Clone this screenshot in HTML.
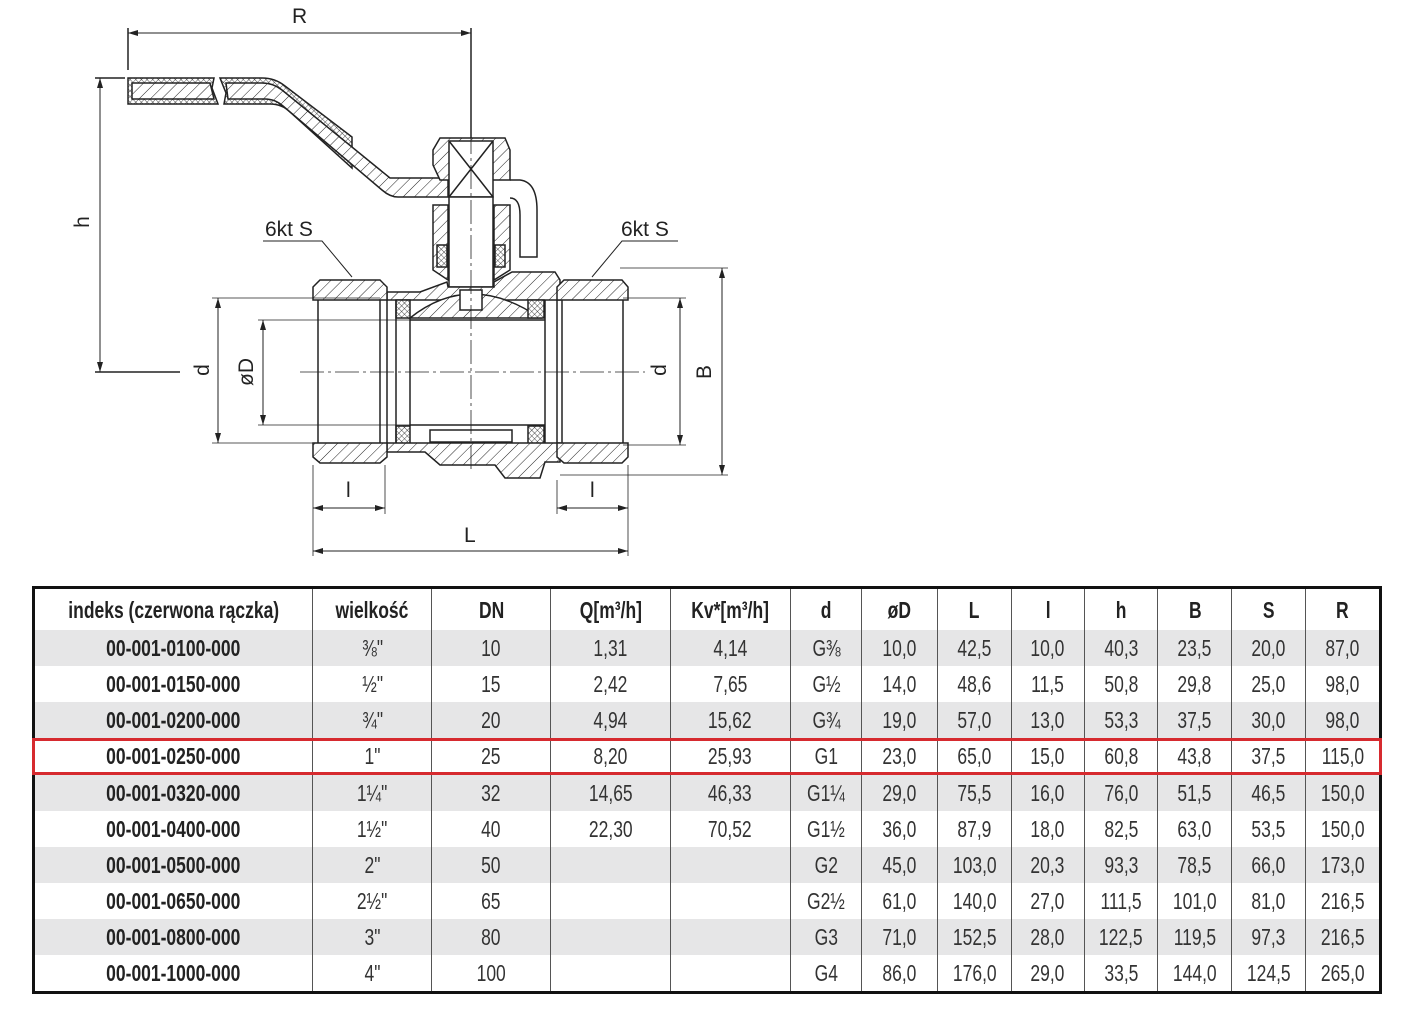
<!DOCTYPE html>
<html><head><meta charset="utf-8"><style>
html,body{margin:0;padding:0;background:#fff;}
body{width:1420px;height:1020px;position:relative;overflow:hidden;font-family:"Liberation Sans",sans-serif;}
svg{position:absolute;left:0;top:0;}
table{position:absolute;left:32px;top:586px;border-collapse:collapse;border:3px solid #111;width:1350px;}
td{height:36px;padding:0;text-align:center;font-size:23px;color:#333;border-left:1.5px solid #555;line-height:36px;white-space:nowrap;}
td span{display:inline-block;transform:scaleX(0.76);}
td:first-child{border-left:none;font-weight:bold;color:#222;}
tr.h td{height:41px;font-weight:bold;color:#222;}
tr.g td{background:#e6e6e7;}
tr.r td{border-top:3px solid #d62a2f;border-bottom:3px solid #d62a2f;height:31px;line-height:31px;}
tr.r td:first-child{border-left:3px solid #d62a2f;}
tr.r td:last-child{border-right:3px solid #d62a2f;}
</style></head><body>
<svg width="1420" height="580" viewBox="0 0 1420 580">
<defs>
<pattern id="hat" width="8" height="8" patternUnits="userSpaceOnUse" patternTransform="rotate(45)"><rect width="8" height="8" fill="#fff"/><line x1="0" y1="0" x2="0" y2="8" stroke="#222" stroke-width="1"/></pattern>
<pattern id="xh" width="4" height="4" patternUnits="userSpaceOnUse" patternTransform="rotate(45)"><rect width="4" height="4" fill="#fff"/><line x1="0" y1="0" x2="0" y2="4" stroke="#222" stroke-width="0.8"/><line x1="0" y1="0" x2="4" y2="0" stroke="#222" stroke-width="0.8"/></pattern>
<marker id="ar" markerWidth="10" markerHeight="6" refX="10" refY="3" orient="auto-start-reverse"><path d="M0,0 L10,3 L0,6 z" fill="#222"/></marker>
</defs>
<g stroke="#222" stroke-width="1.5" fill="none">
<line x1="128" y1="28" x2="128" y2="70"/><line x1="471" y1="28" x2="471" y2="148"/>
<line x1="128" y1="33" x2="471" y2="33" marker-start="url(#ar)" marker-end="url(#ar)" stroke-width="1"/>
<line x1="95" y1="78" x2="125" y2="78"/><line x1="95" y1="372" x2="180" y2="372"/>
<line x1="100" y1="78" x2="100" y2="372" marker-start="url(#ar)" marker-end="url(#ar)" stroke-width="1"/>
<path d="M128,78 L214,78 L212,88 L218,104 L128,104 Z" fill="url(#xh)"/>
<path d="M132,83 L210,83 L214,99 L132,99 Z" fill="url(#hat)"/>
<path d="M220,78 L262,78 Q275,78 285,86 L352,137 L352,143 L352,168 L290,112 Q282,104 270,104 L224,104 L226,93 Z" fill="url(#xh)"/>
<path d="M226,83 L262,83 Q273,83 282,90 L390,178 L448,178 L448,197 L398,197 Q390,197 382,190 L283,106 Q275,99 265,99 L228,99 Z" fill="url(#hat)"/>
<path d="M440,138 L505,138 L510,150 L510,180 L440,180 L433,165 L433,150 Z" fill="url(#hat)"/>
<rect x="449" y="141" width="44" height="56" fill="#fff"/>
<path d="M449,141 L493,197 M493,141 L449,197"/>
<path d="M510,180 L520,180 Q537,182 537,210 L537,257 L520,257 L520,215 Q520,198 510,198"/>
<rect x="449" y="197" width="44" height="90" fill="#fff"/>
<path d="M433,205 L448,205 L448,280 L433,270 Z" fill="url(#hat)"/>
<path d="M494,205 L510,205 L510,270 L494,280 Z" fill="url(#hat)"/>
<rect x="437" y="245" width="10" height="22" fill="url(#xh)"/><rect x="495" y="245" width="10" height="22" fill="url(#xh)"/>
<path d="M387,292 L420,292 L447,282 L448,287 L494,287 L494,282 L512,272 L555,272 L560,280 L560,300 L387,300 Z" fill="url(#hat)"/>
<path d="M410,318 Q470,270 540,318 Z" fill="url(#hat)"/>
<rect x="460" y="290" width="22" height="20" fill="#fff"/>
<rect x="396" y="300" width="14" height="18" fill="url(#xh)"/><rect x="528" y="300" width="16" height="18" fill="url(#xh)"/>
<rect x="396" y="426" width="14" height="18" fill="url(#xh)"/><rect x="528" y="426" width="16" height="18" fill="url(#xh)"/>
<path d="M387,443 L560,443 L560,462 L545,462 L540,478 L505,478 L495,465 L440,465 L425,452 L387,452 Z" fill="url(#hat)"/>
<rect x="430" y="430" width="82" height="12" fill="#fff"/>
<path d="M313,287 L320,280 L380,280 L387,287 L387,300 L313,300 Z" fill="url(#hat)"/>
<path d="M313,443 L387,443 L387,457 L380,463 L320,463 L313,457 Z" fill="url(#hat)"/>
<path d="M557,287 L564,280 L622,280 L628,287 L628,300 L557,300 Z" fill="url(#hat)"/>
<path d="M557,443 L628,443 L628,457 L622,463 L564,463 L557,457 Z" fill="url(#hat)"/>
<line x1="318" y1="300" x2="318" y2="443"/><line x1="380" y1="300" x2="380" y2="443"/>
<line x1="387" y1="300" x2="387" y2="443"/><line x1="396" y1="300" x2="396" y2="443"/>
<line x1="410" y1="318" x2="410" y2="426"/><line x1="545" y1="300" x2="545" y2="443"/><line x1="557" y1="300" x2="557" y2="443"/>
<line x1="562" y1="300" x2="562" y2="443"/><line x1="623" y1="300" x2="623" y2="443"/>
<line x1="410" y1="320" x2="545" y2="320"/><line x1="410" y1="425" x2="545" y2="425"/>
<line x1="300" y1="372" x2="645" y2="372" stroke-dasharray="24,4,3,4" stroke-width="0.8"/>
<line x1="471" y1="130" x2="471" y2="470" stroke-dasharray="24,4,3,4" stroke-width="0.8"/>
<line x1="212" y1="298" x2="380" y2="298" stroke-width="0.8"/><line x1="212" y1="443" x2="380" y2="443" stroke-width="0.8"/>
<line x1="218" y1="298" x2="218" y2="443" marker-start="url(#ar)" marker-end="url(#ar)" stroke-width="1"/>
<line x1="258" y1="320" x2="420" y2="320" stroke-width="0.8"/><line x1="258" y1="425" x2="420" y2="425" stroke-width="0.8"/>
<line x1="263" y1="320" x2="263" y2="425" marker-start="url(#ar)" marker-end="url(#ar)" stroke-width="1"/>
<line x1="623" y1="298" x2="686" y2="298" stroke-width="0.8"/><line x1="623" y1="445" x2="686" y2="445" stroke-width="0.8"/>
<line x1="680" y1="298" x2="680" y2="445" marker-start="url(#ar)" marker-end="url(#ar)" stroke-width="1"/>
<line x1="620" y1="268" x2="728" y2="268" stroke-width="0.8"/><line x1="560" y1="475" x2="728" y2="475" stroke-width="0.8"/>
<line x1="722" y1="268" x2="722" y2="475" marker-start="url(#ar)" marker-end="url(#ar)" stroke-width="1"/>
<line x1="313" y1="465" x2="313" y2="556" stroke-width="0.8"/><line x1="385" y1="465" x2="385" y2="514" stroke-width="0.8"/>
<line x1="557" y1="480" x2="557" y2="514" stroke-width="0.8"/><line x1="628" y1="465" x2="628" y2="556" stroke-width="0.8"/>
<line x1="313" y1="508" x2="385" y2="508" marker-start="url(#ar)" marker-end="url(#ar)" stroke-width="1"/>
<line x1="557" y1="508" x2="628" y2="508" marker-start="url(#ar)" marker-end="url(#ar)" stroke-width="1"/>
<line x1="313" y1="551" x2="628" y2="551" marker-start="url(#ar)" marker-end="url(#ar)" stroke-width="1"/>
<path d="M263,241 L322,241 L352,277" stroke-width="1"/>
<path d="M678,241 L622,241 L592,277" stroke-width="1"/>
</g>
<g font-family="Liberation Sans, sans-serif" font-size="21" fill="#222">
<text x="292" y="23">R</text>
<text x="464" y="542">L</text>
<text x="346" y="497">l</text>
<text x="590" y="497">l</text>
<text x="265" y="236">6kt  S</text>
<text x="621" y="236">6kt  S</text>
<text transform="translate(89,222) rotate(-90)" text-anchor="middle">h</text>
<text transform="translate(209,370) rotate(-90)" text-anchor="middle">d</text>
<text transform="translate(253,372) rotate(-90)" text-anchor="middle">øD</text>
<text transform="translate(666,370) rotate(-90)" text-anchor="middle">d</text>
<text transform="translate(711,372) rotate(-90)" text-anchor="middle">B</text>
</g>
</svg>
<table>
<colgroup><col style="width:279px"><col style="width:119px"><col style="width:120px"><col style="width:120px"><col style="width:120px"><col style="width:72px"><col style="width:76px"><col style="width:74px"><col style="width:73px"><col style="width:74px"><col style="width:74px"><col style="width:74px"><col style="width:75px"></colgroup>
<tr class="h"><td><span>indeks (czerwona rączka)</span></td><td><span>wielkość</span></td><td><span>DN</span></td><td><span>Q[m³/h]</span></td><td><span>Kv*[m³/h]</span></td><td><span>d</span></td><td><span>øD</span></td><td><span>L</span></td><td><span>l</span></td><td><span>h</span></td><td><span>B</span></td><td><span>S</span></td><td><span>R</span></td></tr>
<tr class="g"><td><span>00-001-0100-000</span></td><td><span>⅜"</span></td><td><span>10</span></td><td><span>1,31</span></td><td><span>4,14</span></td><td><span>G⅜</span></td><td><span>10,0</span></td><td><span>42,5</span></td><td><span>10,0</span></td><td><span>40,3</span></td><td><span>23,5</span></td><td><span>20,0</span></td><td><span>87,0</span></td></tr>
<tr><td><span>00-001-0150-000</span></td><td><span>½"</span></td><td><span>15</span></td><td><span>2,42</span></td><td><span>7,65</span></td><td><span>G½</span></td><td><span>14,0</span></td><td><span>48,6</span></td><td><span>11,5</span></td><td><span>50,8</span></td><td><span>29,8</span></td><td><span>25,0</span></td><td><span>98,0</span></td></tr>
<tr class="g"><td><span>00-001-0200-000</span></td><td><span>¾"</span></td><td><span>20</span></td><td><span>4,94</span></td><td><span>15,62</span></td><td><span>G¾</span></td><td><span>19,0</span></td><td><span>57,0</span></td><td><span>13,0</span></td><td><span>53,3</span></td><td><span>37,5</span></td><td><span>30,0</span></td><td><span>98,0</span></td></tr>
<tr class="r"><td><span>00-001-0250-000</span></td><td><span>1"</span></td><td><span>25</span></td><td><span>8,20</span></td><td><span>25,93</span></td><td><span>G1</span></td><td><span>23,0</span></td><td><span>65,0</span></td><td><span>15,0</span></td><td><span>60,8</span></td><td><span>43,8</span></td><td><span>37,5</span></td><td><span>115,0</span></td></tr>
<tr class="g"><td><span>00-001-0320-000</span></td><td><span>1¼"</span></td><td><span>32</span></td><td><span>14,65</span></td><td><span>46,33</span></td><td><span>G1¼</span></td><td><span>29,0</span></td><td><span>75,5</span></td><td><span>16,0</span></td><td><span>76,0</span></td><td><span>51,5</span></td><td><span>46,5</span></td><td><span>150,0</span></td></tr>
<tr><td><span>00-001-0400-000</span></td><td><span>1½"</span></td><td><span>40</span></td><td><span>22,30</span></td><td><span>70,52</span></td><td><span>G1½</span></td><td><span>36,0</span></td><td><span>87,9</span></td><td><span>18,0</span></td><td><span>82,5</span></td><td><span>63,0</span></td><td><span>53,5</span></td><td><span>150,0</span></td></tr>
<tr class="g"><td><span>00-001-0500-000</span></td><td><span>2"</span></td><td><span>50</span></td><td></td><td></td><td><span>G2</span></td><td><span>45,0</span></td><td><span>103,0</span></td><td><span>20,3</span></td><td><span>93,3</span></td><td><span>78,5</span></td><td><span>66,0</span></td><td><span>173,0</span></td></tr>
<tr><td><span>00-001-0650-000</span></td><td><span>2½"</span></td><td><span>65</span></td><td></td><td></td><td><span>G2½</span></td><td><span>61,0</span></td><td><span>140,0</span></td><td><span>27,0</span></td><td><span>111,5</span></td><td><span>101,0</span></td><td><span>81,0</span></td><td><span>216,5</span></td></tr>
<tr class="g"><td><span>00-001-0800-000</span></td><td><span>3"</span></td><td><span>80</span></td><td></td><td></td><td><span>G3</span></td><td><span>71,0</span></td><td><span>152,5</span></td><td><span>28,0</span></td><td><span>122,5</span></td><td><span>119,5</span></td><td><span>97,3</span></td><td><span>216,5</span></td></tr>
<tr><td><span>00-001-1000-000</span></td><td><span>4"</span></td><td><span>100</span></td><td></td><td></td><td><span>G4</span></td><td><span>86,0</span></td><td><span>176,0</span></td><td><span>29,0</span></td><td><span>33,5</span></td><td><span>144,0</span></td><td><span>124,5</span></td><td><span>265,0</span></td></tr>
</table>
</body></html>
